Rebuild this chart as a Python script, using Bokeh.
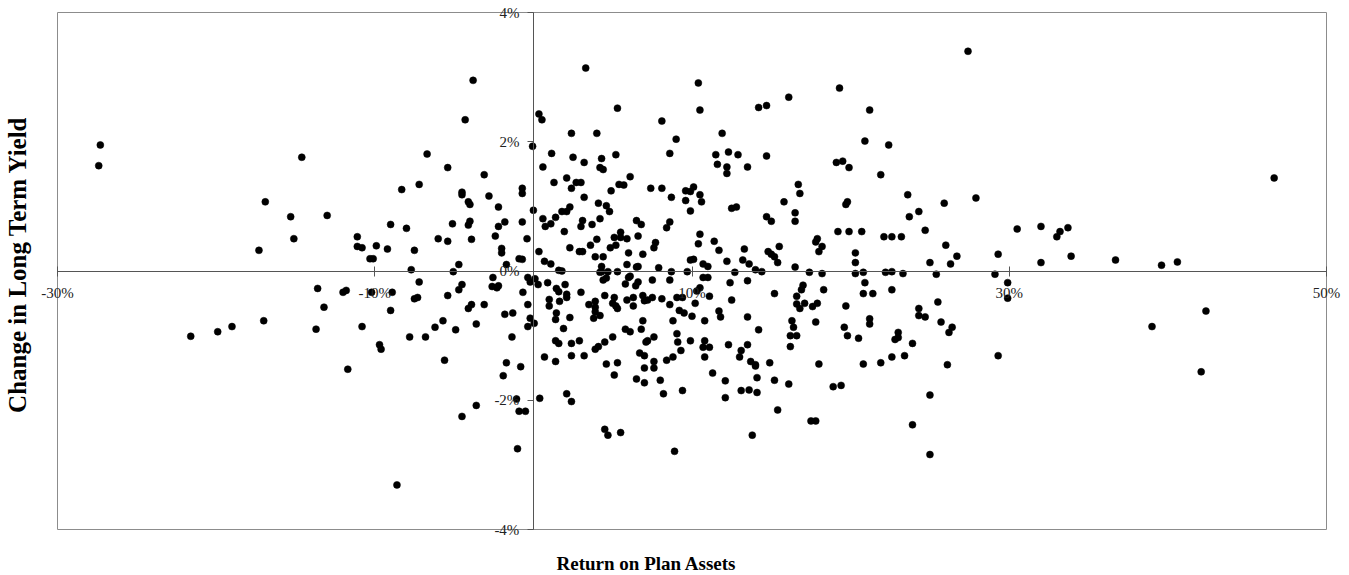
from bokeh.plotting import figure
from bokeh.models import FixedTicker, PrintfTickFormatter, Range1d
from bokeh.core.properties import value
from bokeh.embed import file_html
from bokeh.resources import INLINE

# Return on Plan Assets (%) and Change in Long Term Yield (%), grouped by region
ret_far_left = [-27.3, -27.4, -14.6, -16.9, -15.3, -13.0, -15.1, -17.3, -11.1, -11.1, -10.8, -9.9, -10.3, -10.1,
                -13.6, -12.0, -11.8, -10.2, -13.2, -17.0, -19.0, -19.9, -21.6, -13.7, -10.8, -11.7, -9.7, -9.6]
chg_far_left = [1.95, 1.63, 1.76, 1.07, 0.84, 0.86, 0.50, 0.32, 0.53, 0.38, 0.36, 0.39, 0.19, 0.19,
                -0.27, -0.33, -0.30, -0.33, -0.56, -0.77, -0.86, -0.94, -1.01, -0.90, -0.86, -1.52, -1.14, -1.21]

ret_far_right = [30.5, 32.0, 33.0, 33.2, 33.7, 32.0, 33.9, 36.7, 39.6, 40.6, 46.7, 39.0, 42.4, 42.1, 29.9, 29.9]
chg_far_right = [0.65, 0.69, 0.53, 0.61, 0.67, 0.13, 0.23, 0.17, 0.09, 0.14, 1.44, -0.86, -0.62, -1.56, -0.18, -0.42]

ret_up_right = [27.4, 10.4, 10.5, 19.3, 21.2, 16.1, 14.2, 14.7, 11.9, 11.5, 12.3, 12.9, 11.6, 12.2, 12.2, 13.5,
                14.7, 20.9, 22.4, 19.1, 19.5, 19.9, 21.9, 10.1, 9.9, 10.5, 10.6, 9.9, 16.7, 16.8, 15.8, 12.5,
                12.8, 14.7, 15.0, 16.5, 16.5, 19.7, 19.8, 23.6, 27.9, 23.7, 24.3, 25.9, 24.7, 10.5, 10.4, 11.4,
                11.7, 10.1, 10.7, 11.0, 12.2, 12.7, 13.3, 13.2, 13.6, 14.0, 14.4, 14.8, 15.0, 15.2, 15.4, 15.5,
                16.5, 17.4, 17.9, 17.8, 18.2, 18.0, 18.2, 19.2, 19.9, 20.7, 20.3, 20.3, 20.3, 20.8, 22.1, 22.6,
                23.2, 22.2, 22.6, 23.3, 26.0, 26.7, 26.3, 25.0, 25.4, 29.3, 29.1, 9.9]
chg_up_right = [3.40, 2.91, 2.49, 2.83, 2.49, 2.69, 2.53, 2.56, 2.13, 1.80, 1.84, 1.80, 1.65, 1.61, 1.51, 1.61,
                1.78, 2.01, 1.95, 1.68, 1.70, 1.60, 1.49, 1.30, 1.23, 1.18, 1.07, 0.93, 1.34, 1.20, 1.07, 0.97,
                0.99, 0.84, 0.77, 0.90, 0.77, 1.03, 1.07, 1.18, 1.13, 0.84, 0.92, 1.05, 0.63, 0.57, 0.42, 0.46,
                0.32, 0.18, 0.11, 0.07, 0.15, -0.02, 0.34, 0.17, 0.11, 0.02, -0.01, 0.30, 0.26, 0.22, 0.13, 0.38,
                0.06, -0.02, 0.50, 0.45, 0.38, 0.30, -0.04, 0.61, 0.61, 0.61, 0.28, 0.13, -0.04, -0.02, 0.53, 0.53,
                0.53, -0.02, -0.01, -0.04, 0.40, 0.23, 0.11, 0.13, -0.05, 0.26, -0.05, 0.17]

ret_low_right = [10.7, 11.0, 12.4, 13.5, 10.3, 10.5, 10.2, 11.1, 12.5, 15.2, 17.0, 16.9, 16.6, 16.6, 16.8, 17.1,
                 17.6, 17.9, 18.3, 20.9, 20.8, 21.4, 22.6, 19.7, 11.7, 11.8, 10.0, 10.8, 13.5, 14.2, 16.3, 16.4,
                 17.8, 16.2, 16.6, 16.2, 19.6, 19.8, 20.5, 21.2, 21.2, 24.3, 24.3, 24.7, 25.5, 25.7, 26.4, 26.2,
                 23.0, 23.0, 22.8, 23.9, 23.4, 22.6, 21.9, 20.8, 26.1, 29.3, 9.9, 10.8, 10.7, 11.1, 10.8, 12.3,
                 13.1, 13.0, 13.5, 13.7, 14.0, 14.0, 14.9, 14.1, 11.3, 12.1, 15.2, 16.1, 18.0, 18.9, 19.4, 13.1,
                 13.6, 14.1, 12.1, 15.4, 17.5, 17.8, 13.8, 25.0, 23.9, 25.0]
chg_low_right = [-0.10, -0.10, -0.18, -0.15, -0.31, -0.26, -0.50, -0.39, -0.45, -0.35, -0.22, -0.29, -0.39, -0.51,
                 -0.58, -0.50, -0.55, -0.50, -0.29, -0.18, -0.35, -0.35, -0.29, -0.54, -0.62, -0.71, -0.70, -0.77,
                 -0.71, -0.91, -0.77, -0.87, -0.79, -1.00, -1.00, -1.17, -0.87, -1.00, -1.04, -0.74, -0.82, -0.58,
                 -0.69, -0.71, -0.48, -0.79, -0.87, -0.95, -0.95, -1.03, -1.06, -1.12, -1.31, -1.33, -1.42, -1.44,
                 -1.45, -1.31, -1.08, -1.08, -1.18, -1.18, -1.33, -1.14, -1.23, -1.33, -1.14, -1.40, -1.45, -1.47,
                 -1.42, -1.65, -1.58, -1.70, -1.69, -1.75, -1.44, -1.79, -1.77, -1.85, -1.84, -1.88, -1.96, -2.15,
                 -2.32, -2.32, -2.54, -1.92, -2.38, -2.84]

ret_up_left = [-3.8, -4.3, 3.3, 5.3, 0.35, 0.54, 8.1, 2.4, 4.0, 9.0, 8.6, -0.05, 1.15, 2.5, 3.2, 4.3, 4.2, 4.4,
               5.2, 0.6, -6.7, -5.4, -3.1, -7.2, -8.3, -4.5, -4.5, -4.1, -4.0, -2.8, -2.2, -0.7, -0.7, 2.1, 1.3,
               2.4, 2.7, 3.0, 3.2, 4.1, 4.9, 5.4, 5.7, 6.1, 7.4, 8.1, 8.7, 9.6, 9.6, 0.0, 0.6, 0.75, 1.1, 1.4,
               1.8, 2.1, 2.3, 1.95, 3.1, 3.0, 3.7, 4.2, 4.6, 4.8, 2.3, 2.9, 3.1, 3.6, 4.0, 3.9, 4.4, 4.85, 5.1,
               5.2, 5.5, 5.5, 5.9, 6.5, 6.8, 6.6, 7.7, 7.6, 6.9, 6.0, 8.4, 8.6, 0.35, 0.7, 1.1, 1.6, 1.8, 4.3,
               4.3, 4.7, 5.3, 5.9, 6.5, 6.6, 7.9, 8.7, 9.7, -0.7, -0.9, -0.4, -0.7, -1.8, -2.2, -2.4, -2.0, -2.0,
               -1.7, -4.1, -4.0, -3.9, -5.1, -6.0, -5.4, -4.7, -5.05, -7.7, -7.5, -8.0, -9.0, -9.2]
chg_up_left = [2.95, 2.34, 3.14, 2.52, 2.43, 2.34, 2.32, 2.13, 2.13, 2.04, 1.82, 1.93, 1.82, 1.76, 1.68, 1.74,
               1.60, 1.57, 1.80, 1.61, 1.81, 1.60, 1.49, 1.34, 1.26, 1.22, 1.18, 1.07, 1.03, 1.16, 0.99, 1.28,
               1.20, 1.44, 1.37, 1.28, 1.37, 1.37, 1.14, 1.05, 1.24, 1.34, 1.33, 1.46, 1.28, 1.28, 1.14, 1.24,
               1.09, 0.94, 0.81, 0.69, 0.73, 0.83, 0.92, 0.92, 0.99, 0.61, 0.78, 0.69, 0.72, 0.81, 1.01, 0.92,
               0.36, 0.30, 0.30, 0.40, 0.49, 0.22, 0.22, 0.36, 0.52, 0.40, 0.60, 0.52, 0.50, 0.78, 0.72, 0.54,
               0.44, 0.36, 0.26, 0.28, 0.67, 0.76, 0.30, 0.15, 0.11, 0.01, 0.00, 0.07, -0.01, -0.01, -0.01, 0.10,
               0.06, 0.07, 0.05, -0.01, -0.01, 0.18, 0.19, 0.50, 0.76, 0.76, 0.69, 0.54, 0.35, 0.28, 0.10, 0.71,
               0.77, 0.49, 0.73, 0.50, 0.46, 0.10, -0.01, 0.02, 0.32, 0.66, 0.72, 0.34]

ret_low_left = [-7.2, -2.55, -2.6, -2.3, -2.2, -4.5, -4.7, -5.4, -7.5, -7.3, -8.9, -9.0, -7.8, -6.8, -6.2, -5.7,
                -4.9, -4.1, -3.9, -3.1, -3.6, -5.6, -1.8, -1.3, -1.35, -0.66, -0.35, -0.2, 0.1, 0.3, -0.35, -0.2,
                0.05, -0.35, -1.7, -0.8, -1.9, -1.06, -0.9, -0.5, -3.6, -4.5, -1.0, -8.6, 0.4, 0.7, 0.9, 1.0,
                1.0, 1.45, 1.6, 1.65, 2.0, 2.1, 2.1, 1.45, 1.4, 1.9, 2.3, 1.4, 1.6, 1.4, 2.4, 2.9, 2.4, 3.2,
                2.1, 2.4, 3.0, 3.5, 3.9, 3.9, 3.9, 3.8, 4.2, 4.4, 4.6, 4.2, 4.5, 5.1, 5.0, 5.2, 5.3, 5.8, 6.0,
                6.1, 6.45, 6.6, 5.9, 6.3, 6.3, 6.9, 7.0, 7.2, 7.5, 7.5, 8.1, 8.6, 8.6, 9.05, 9.4, 9.2, 9.5, 8.8,
                9.05, 9.1, 9.3, 8.8, 8.4, 6.8, 6.9, 7.6, 7.2, 7.1, 6.7, 7.0, 7.6, 7.6, 7.0, 6.5, 7.0, 8.0, 8.2,
                9.4, 5.8, 6.1, 5.0, 4.5, 4.1, 3.9, 4.6, 5.3, 5.1, 4.5, 4.7, 5.5, 8.9]
chg_low_left = [-0.17, -0.10, -0.24, -0.26, -0.23, -0.21, -0.29, -0.38, -0.43, -0.41, -0.33, -0.61, -1.02, -1.02,
                -0.87, -0.77, -0.91, -0.58, -0.52, -0.52, -0.82, -1.38, -0.67, -0.65, -1.02, -0.33, -0.10, -0.17,
                -0.12, -0.21, -0.52, -0.73, -0.81, -0.86, -1.42, -1.48, -1.62, -1.98, -2.17, -2.17, -2.08, -2.25,
                -2.75, -3.31, -1.97, -1.33, -0.18, -0.44, -0.54, -0.27, -0.32, -0.47, -0.21, -0.36, -0.41, -0.65,
                -0.75, -0.89, -0.72, -1.08, -1.12, -1.40, -1.12, -1.08, -1.31, -1.31, -1.90, -2.02, -0.33, -0.52,
                -0.47, -0.56, -0.63, -0.73, -0.69, -0.14, -0.11, -0.02, -0.38, -0.41, -0.50, -0.54, -0.58, -0.20,
                -0.10, -0.08, -0.23, -0.17, -0.45, -0.54, -0.41, -0.38, -0.46, -0.45, -0.41, -0.14, -0.43, -0.14,
                -0.52, -0.41, -0.41, -0.61, -0.65, -0.77, -0.97, -1.10, -1.23, -1.33, -1.38, -0.90, -0.77, -1.02,
                -1.08, -1.10, -1.27, -1.31, -1.40, -1.50, -1.50, -1.67, -1.73, -1.69, -1.90, -1.85, -0.90, -0.94,
                -1.02, -1.10, -1.17, -1.21, -1.44, -1.42, -1.61, -2.45, -2.54, -2.50, -2.79]

x_ticks = [-30, -10, 10, 30, 50]
y_ticks = [-4, -2, 0, 2, 4]
x_lim = (-30, 50)
y_lim = (-4, 4)
x_title = "Return on Plan Assets"
y_title = "Change in Long Term Yield"

ret = ret_far_left + ret_far_right + ret_up_right + ret_low_right + ret_up_left + ret_low_left
chg = chg_far_left + chg_far_right + chg_up_right + chg_low_right + chg_up_left + chg_low_left

# ---- layout (pixels on the canvas) ----
W, H = 1349, 575
box_l, box_r, box_t, box_b = 57, 1326, 12, 529
kx = (box_r - box_l) / (x_lim[1] - x_lim[0])
ky = (box_b - box_t) / (y_lim[1] - y_lim[0])
def dx(px):
    return x_lim[0] + (px - box_l) / kx
def dy(py):
    return y_lim[1] - (py - box_t) / ky

p = figure(width=W, height=H, output_backend="svg", toolbar_location=None,
           x_range=Range1d(dx(0), dx(W)), y_range=Range1d(dy(H), dy(0)),
           min_border=0, min_border_left=0, min_border_right=0, min_border_top=0, min_border_bottom=0)
p.xgrid.visible = False
p.ygrid.visible = False
p.outline_line_color = None
p.background_fill_color = "white"
p.border_fill_color = "white"

# plot-area box
p.quad(left=[x_lim[0]], right=[x_lim[1]], bottom=[y_lim[0]], top=[y_lim[1]],
       fill_color=None, line_color="#8c8c8c", line_width=1)

p.scatter(ret, chg, size=7, fill_color="black", line_color="black", line_width=0.5)

font = "Liberation Serif"
for ax in (p.xaxis[0], p.yaxis[0]):
    ax.fixed_location = 0
    ax.axis_line_color = "#555555"
    ax.major_tick_line_color = "#555555"
    ax.minor_tick_line_color = None
    ax.major_label_text_font = font
    ax.major_label_text_font_size = "15px"
    ax.major_label_text_color = "#222222"
    ax.formatter = PrintfTickFormatter(format="%d%%")

p.xaxis[0].bounds = x_lim
p.xaxis[0].ticker = FixedTicker(ticks=x_ticks)
p.xaxis[0].major_tick_in = 5
p.xaxis[0].major_tick_out = 5
p.xaxis[0].major_label_standoff = 9
p.yaxis[0].bounds = y_lim
p.yaxis[0].ticker = FixedTicker(ticks=y_ticks)
p.yaxis[0].major_tick_in = 0
p.yaxis[0].major_tick_out = 6
p.yaxis[0].major_label_standoff = 8

p.text(x=[dx(646)], y=[dy(563)], text=[x_title], text_font=value(font), text_font_style="bold",
       text_font_size="19px", text_align="center", text_baseline="middle", text_color="black")
p.text(x=[dx(17)], y=[dy(264)], text=[y_title], text_font=value(font), text_font_style="bold",
       text_font_size="25px", text_align="center", text_baseline="middle", angle=1.5708,
       text_color="black")

open("out.html", "w").write(file_html(p, INLINE))
